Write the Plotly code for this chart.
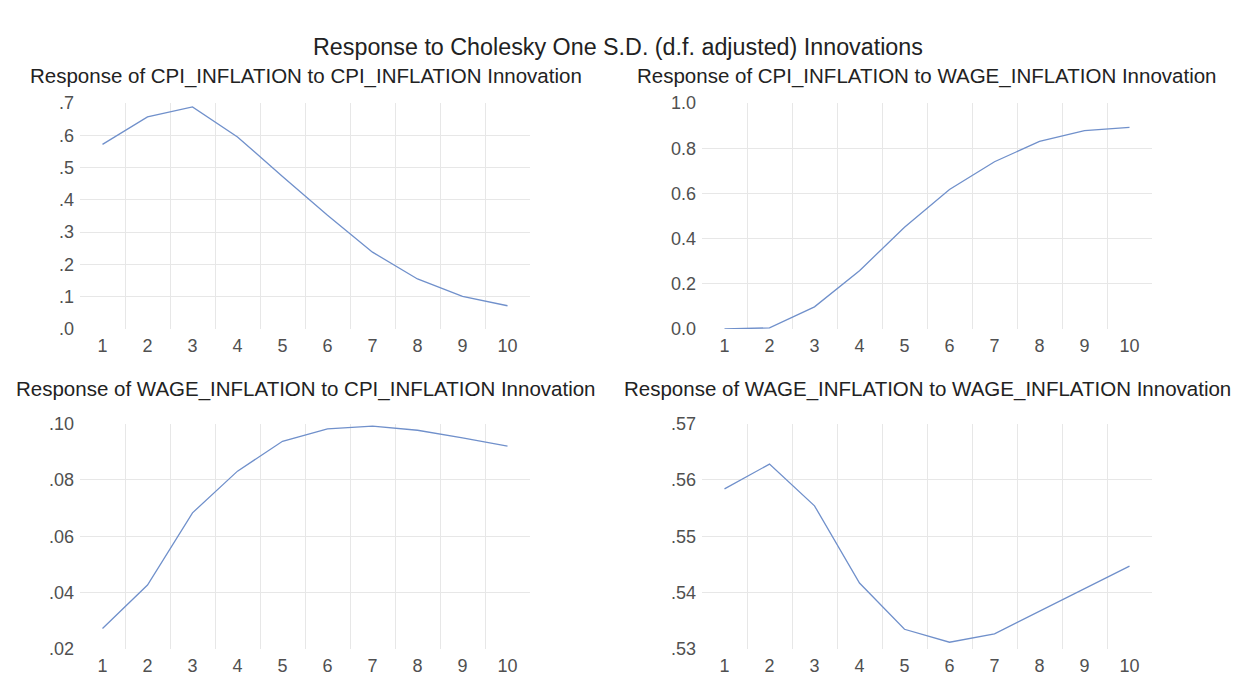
import plotly.graph_objects as go
from plotly.subplots import make_subplots

# Impulse-response horizon (periods)
periods = [1, 2, 3, 4, 5, 6, 7, 8, 9, 10]

# Responses to Cholesky one S.D. innovations
cpi_to_cpi = [0.572, 0.657, 0.688, 0.595, 0.472, 0.352, 0.238, 0.155, 0.101, 0.072]
cpi_to_wage = [0.0, 0.005, 0.098, 0.258, 0.450, 0.617, 0.740, 0.830, 0.878, 0.892]
wage_to_cpi = [0.0273, 0.0427, 0.0683, 0.0831, 0.0937, 0.0981, 0.0991, 0.0976, 0.0949, 0.0920]
wage_to_wage = [0.5584, 0.5628, 0.5554, 0.5417, 0.5335, 0.5312, 0.5327, 0.5367, 0.5408, 0.5447]

panel_titles = [
    "Response of CPI_INFLATION to CPI_INFLATION Innovation",
    "Response of CPI_INFLATION to WAGE_INFLATION Innovation",
    "Response of WAGE_INFLATION to CPI_INFLATION Innovation",
    "Response of WAGE_INFLATION to WAGE_INFLATION Innovation",
]
main_title = "Response to Cholesky One S.D. (d.f. adjusted) Innovations"

# y-axis ticks for each panel
y_ticks = [
    [0.0, 0.1, 0.2, 0.3, 0.4, 0.5, 0.6, 0.7],
    [0.0, 0.2, 0.4, 0.6, 0.8, 1.0],
    [0.02, 0.04, 0.06, 0.08, 0.10],
    [0.53, 0.54, 0.55, 0.56, 0.57],
]
y_ticktext = [
    [".0", ".1", ".2", ".3", ".4", ".5", ".6", ".7"],
    ["0.0", "0.2", "0.4", "0.6", "0.8", "1.0"],
    [".02", ".04", ".06", ".08", ".10"],
    [".53", ".54", ".55", ".56", ".57"],
]

series = [cpi_to_cpi, cpi_to_wage, wage_to_cpi, wage_to_wage]

W, H = 1239, 675
FONT = "Liberation Sans, Arial, sans-serif"
LINE = "#7090cb"
GRID = "#e7e7e7"
TICK = "#505050"

fig = make_subplots(rows=2, cols=2)

# plot-area placement (pixels) -> paper domains
x_dom = [(80, 530), (702, 1152), (80, 530), (702, 1152)]
y_dom = [(103, 329), (103, 329), (423.5, 649), (423.5, 649)]

for i, vals in enumerate(series):
    r, c = i // 2 + 1, i % 2 + 1
    fig.add_trace(
        go.Scatter(x=periods, y=vals, mode="lines",
                   line=dict(color=LINE, width=1.3), showlegend=False,
                   hoverinfo="x+y"),
        row=r, col=c,
    )
    xs = "xaxis" if i == 0 else f"xaxis{i + 1}"
    ys = "yaxis" if i == 0 else f"yaxis{i + 1}"
    fig.layout[xs].update(
        domain=[x_dom[i][0] / W, x_dom[i][1] / W],
        range=[0.5, 10.5], automargin=False,
        tickmode="array", tickvals=periods,
        ticktext=[str(p) for p in periods],
        showgrid=False, zeroline=False, showline=False, ticks="",
        ticklabelstandoff=4,
        tickfont=dict(family=FONT, size=18, color=TICK),
        minor=dict(tickmode="array",
                   tickvals=[p + 0.5 for p in periods[:-1]],
                   showgrid=True, gridcolor=GRID, gridwidth=1, ticks=""),
    )
    yt = y_ticks[i]
    fig.layout[ys].update(
        domain=[1 - y_dom[i][1] / H, 1 - y_dom[i][0] / H],
        range=[yt[0], yt[-1]], automargin=False,
        tickmode="array", tickvals=yt, ticktext=y_ticktext[i],
        showgrid=False, zeroline=False, showline=False, ticks="",
        ticklabelstandoff=5,
        tickfont=dict(family=FONT, size=18, color=TICK),
        minor=dict(tickmode="array", tickvals=yt[1:-1],
                   showgrid=True, gridcolor=GRID, gridwidth=1, ticks=""),
    )

annotations = [
    dict(text=main_title, x=618 / W, y=1 - 47 / H, xref="paper", yref="paper",
         xanchor="center", yanchor="middle", showarrow=False,
         font=dict(family=FONT, size=23.3, color="#222222")),
]
title_pos = [(306, 76), (927, 76), (306, 389), (927, 389)]
for t, (px, py) in zip(panel_titles, title_pos):
    annotations.append(
        dict(text=t, x=px / W, y=1 - py / H, xref="paper", yref="paper",
             xanchor="center", yanchor="middle", showarrow=False,
             font=dict(family=FONT, size=20.5, color="#222222"))
    )

fig.update_layout(
    width=W, height=H,
    margin=dict(l=0, r=0, t=0, b=0, autoexpand=False),
    paper_bgcolor="white", plot_bgcolor="white",
    annotations=annotations,
)

fig.write_html("out.html")
